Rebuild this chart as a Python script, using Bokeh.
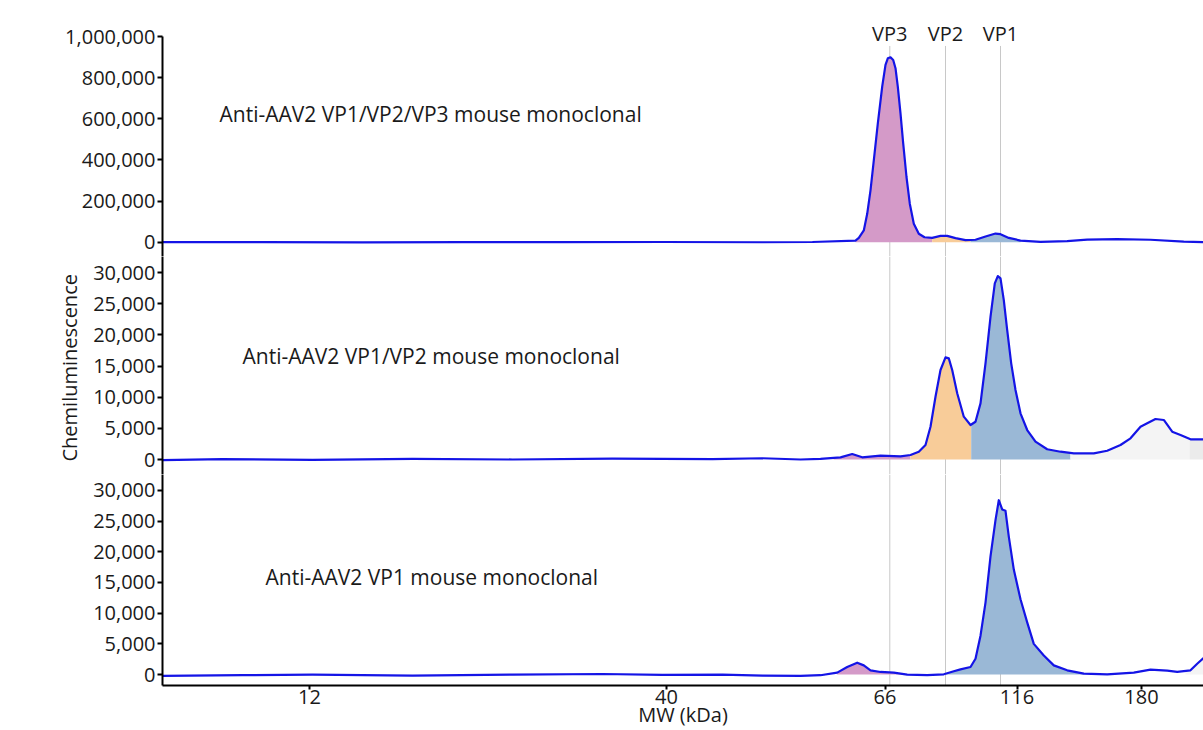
import numpy as np
from bokeh.plotting import figure
from bokeh.layouts import column
from bokeh.models import Range1d, FixedTicker, NumeralTickFormatter, Span, Label, Title
from bokeh.core.properties import value
from bokeh.embed import file_html
from bokeh.resources import INLINE

# ---------------- data ----------------
# x is migration position (a.u.); MW ladder maps positions to kDa labels
ladder_pos = [147, 504, 722.5, 854.5, 979]
ladder_mw = ["12", "40", "66", "116", "180"]

vp_names = ["VP3", "VP2", "VP1"]
vp_pos = [727.3, 783, 838]

panel_titles = ["Anti-AAV2 VP1/VP2/VP3 mouse monoclonal",
                "Anti-AAV2 VP1/VP2 mouse monoclonal",
                "Anti-AAV2 VP1 mouse monoclonal"]

p1_pos = [0, 100, 200, 300, 400, 500, 600, 650, 693, 696.3, 701.3, 704.7, 708, 711.3, 715.3, 719.7, 723, 725.3, 728,
          730.7, 733, 735.3, 738, 740.7, 744, 747.3, 751.3, 756.3, 762, 769.7, 778, 784.7, 793, 803, 813, 823,
          833, 838, 846.3, 858, 878, 904.7, 924.7, 954.7, 988, 1021.3, 1041]
p1_val = [0, 800, -500, 600, 0, 900, -300, 1000, 8000, 21000, 57000, 138000, 252000, 398000, 577000, 756000, 862000,
          894000, 899000, 886000, 846000, 756000, 626000, 480000, 317000, 187000, 90000, 41000, 24000, 21000,
          31000, 31000, 20000, 10000, 12000, 28000, 42000, 39000, 21000, 8000, 2000, 5000, 13000, 15000, 12000,
          3000, 0]

p2_pos = [0, 60, 150, 250, 350, 450, 550, 600, 638, 658, 678, 689.7, 699.7, 718, 738, 748, 756.3, 763, 768, 773, 778,
          783, 786.3, 789.7, 794.7, 801.3, 808, 813, 818, 823, 828, 832.3, 835.3, 838, 841.3, 844.7, 848.7, 853,
          858, 864.7, 873, 884.7, 898, 911.3, 931.3, 944.7, 958, 968, 978, 984.7, 993, 1001.3, 1009.7, 1018,
          1028, 1041]
p2_val = [-100, 50, -50, 100, 0, 150, 50, 200, 0, 100, 350, 880, 350, 610, 510, 720, 1250, 2330, 5260, 10070, 14360,
          16390, 16230, 14360, 10620, 6870, 5530, 6060, 9010, 15430, 22900, 28260, 29430, 29060, 25580, 20770,
          15430, 11150, 7410, 4730, 2860, 1640, 1250, 990, 990, 1410, 2330, 3400, 5260, 5810, 6500, 6340,
          4460, 3930, 3240, 3240]

p3_pos = [0, 80, 150, 250, 350, 440, 500, 560, 600, 638, 658, 674.7, 684.7, 694.7, 701.3, 708, 718, 731.3, 744.7,
          764.7, 781.3, 791.3, 798, 808, 813, 818, 823, 828, 833, 836.3, 839.7, 843, 846.3, 851.3, 858, 864.7,
          871.3, 881.3, 891.3, 904.7, 921.3, 944.7, 971.3, 988, 1004.7, 1014.7, 1028, 1034.7, 1041]
p3_val = [-200, -100, 0, -150, 0, 100, -50, 0, -150, -210, -100, 320, 1240, 1940, 1500, 700, 430, 320, 0, -100, 50,
          540, 860, 1240, 2580, 6340, 11730, 19250, 25160, 28390, 26890, 26670, 22470, 17100, 12260, 8500,
          5000, 3110, 1500, 700, 160, 50, 320, 810, 650, 430, 700, 1770, 2690]

# peak-assignment regions (start, end, region)
p1_regions = [(693, 769.7, "VP3"), (769.7, 808, "VP2"), (808, 858, "VP1")]
p2_regions = [(671, 748, "VP3"), (748, 808.7, "VP2"), (808.7, 908, "VP1"), (908, 1027, "other"), (1027, 1041, "other2")]
p3_regions = [(674.7, 744.7, "VP3"), (781.3, 921.3, "VP1"), (1023, 1041, "other")]

# ---------------- style ----------------
region_colors = {"VP3": "#d49ac8", "VP2": "#f8cc99", "VP1": "#9ab8d6", "other": "#f4f4f4", "other2": "#ebebeb"}
LINE = "#1414e6"
FONT = "Open Sans"
FS = "20px"
TFS = "21px"
TXT = "#1a1a1a"
GRAY = "#c8c8c8"

W = 1203
LEFT = 162
XR = Range1d(0, 1041)


def style_axes(p):
    for ax in p.axis:
        ax.axis_line_color = "black"
        ax.axis_line_width = 2
        ax.major_tick_line_color = "black"
        ax.major_tick_line_width = 2
        ax.major_tick_in = 0
        ax.major_tick_out = 5
        ax.minor_tick_line_color = None
        ax.major_label_text_font = FONT
        ax.major_label_text_font_size = FS
        ax.major_label_text_color = TXT
        ax.major_label_standoff = 2


def make_fig(height, yr, top=1, bottom=1, xaxis=False):
    p = figure(width=W, height=height, output_backend="svg", toolbar_location=None,
               x_range=XR, y_range=Range1d(*yr),
               x_axis_location="below" if xaxis else None, title=None,
               min_border_left=LEFT, min_border_right=0, min_border_top=top, min_border_bottom=bottom)
    p.outline_line_color = None
    p.xgrid.visible = False
    p.ygrid.visible = False
    p.background_fill_color = "white"
    p.border_fill_color = "white"
    style_axes(p)
    return p


def draw_panel(p, xs, ys, regions):
    xs = np.asarray(xs, dtype=float)
    ys = np.asarray(ys, dtype=float)
    for x0, x1, reg in regions:
        inner = (xs > x0) & (xs < x1)
        sx = np.concatenate([[x0], xs[inner], [x1]])
        sy = np.concatenate([[np.interp(x0, xs, ys)], ys[inner], [np.interp(x1, xs, ys)]])
        p.varea(x=sx, y1=np.zeros_like(sx), y2=sy, fill_color=region_colors[reg])
    p.line(xs, ys, line_color=LINE, line_width=2.2, line_join="round")


# top panel (frame reaches the top edge so the VP labels fit inside it)
Y1 = (-69500, 1165300)
p1 = make_fig(256, Y1, top=2, bottom=0)
p1.yaxis.ticker = FixedTicker(ticks=[0, 200000, 400000, 600000, 800000, 1000000])
p1.yaxis.formatter = NumeralTickFormatter(format="0,0")
p1.yaxis.bounds = (Y1[0], 1000000)
p1.segment(x0=vp_pos, x1=vp_pos, y0=[954000] * 3, y1=[Y1[0]] * 3, line_color=GRAY, line_width=1)
draw_panel(p1, p1_pos, p1_val, p1_regions)
p1.text(x=vp_pos, y=[1014500] * 3, text=vp_names, text_align="center", text_baseline="middle",
        text_font=value(FONT), text_font_size=FS, text_color=TXT)
p1.add_layout(Label(x=57, y=625000, text=panel_titles[0], text_align="left", text_baseline="middle",
                    text_font=FONT, text_font_size=TFS, text_color=TXT))

# middle panel
p2 = make_fig(218, (-2406, 32567), top=0, bottom=0)
p2.yaxis.ticker = FixedTicker(ticks=[0, 5000, 10000, 15000, 20000, 25000, 30000])
p2.yaxis.formatter = NumeralTickFormatter(format="0,0")
for xp in vp_pos:
    p2.add_layout(Span(location=xp, dimension="height", line_color=GRAY, line_width=1, level="underlay"))
draw_panel(p2, p2_pos, p2_val, p2_regions)
p2.add_layout(Label(x=80, y=16600, text=panel_titles[1], text_align="left", text_baseline="middle",
                    text_font=FONT, text_font_size=TFS, text_color=TXT))
p2.add_layout(Title(text="Chemiluminescence", align="left", offset=13, standoff=16,
                    text_font=FONT, text_font_size=FS, text_font_style="normal", text_color=TXT), "left")

# bottom panel
p3 = make_fig(256, (-1774, 32580), top=0, bottom=43, xaxis=True)
p3.yaxis.ticker = FixedTicker(ticks=[0, 5000, 10000, 15000, 20000, 25000, 30000])
p3.yaxis.formatter = NumeralTickFormatter(format="0,0")
p3.xaxis.ticker = FixedTicker(ticks=ladder_pos)
p3.xaxis.major_label_overrides = {pos: mw for pos, mw in zip(ladder_pos, ladder_mw)}
p3.xaxis.major_tick_out = 4
p3.xaxis.major_label_standoff = 0
p3.xaxis.axis_label = "MW (kDa)"
p3.xaxis.axis_label_standoff = -6
p3.xaxis.axis_label_text_font = FONT
p3.xaxis.axis_label_text_font_size = FS
p3.xaxis.axis_label_text_font_style = "normal"
p3.xaxis.axis_label_text_color = TXT
for xp in vp_pos:
    p3.add_layout(Span(location=xp, dimension="height", line_color=GRAY, line_width=1, level="underlay"))
draw_panel(p3, p3_pos, p3_val, p3_regions)
p3.add_layout(Label(x=103, y=15970, text=panel_titles[2], text_align="left", text_baseline="middle",
                    text_font=FONT, text_font_size=TFS, text_color=TXT))

layout = column(p1, p2, p3, spacing=0)
open("out.html", "w").write(file_html(layout, INLINE))
